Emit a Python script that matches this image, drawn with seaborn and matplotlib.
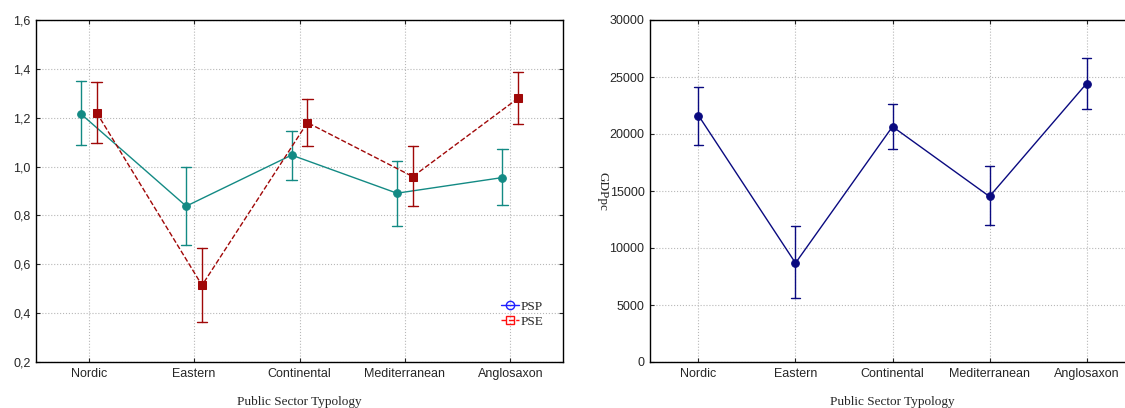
import pandas as pd
import matplotlib
matplotlib.use("Agg")
import matplotlib.pyplot as plt
import seaborn as sns
from matplotlib.lines import Line2D
from matplotlib.ticker import FuncFormatter, MultipleLocator

# data: point value with lower / upper error bar ends
typology = ["Nordic", "Eastern", "Continental", "Mediterranean", "Anglosaxon"]

psp_mean = [1.216, 0.838, 1.047, 0.891, 0.955]
psp_low = [1.088, 0.678, 0.946, 0.758, 0.843]
psp_high = [1.352, 1.000, 1.147, 1.021, 1.070]

pse_mean = [1.221, 0.514, 1.180, 0.959, 1.280]
pse_low = [1.098, 0.362, 1.085, 0.837, 1.173]
pse_high = [1.348, 0.666, 1.278, 1.086, 1.389]

gdp_mean = [21620, 8680, 20650, 14520, 24420]
gdp_low = [19020, 5580, 18670, 12010, 22200]
gdp_high = [24160, 11890, 22610, 17200, 26700]


def long_rows(name, mean, low, high):
    # three rows per category: median is the point, min/max are the bar ends
    rows = []
    for t, m, lo, hi in zip(typology, mean, low, high):
        for v in (lo, m, hi):
            rows.append({"typ": t, "series": name, "value": v})
    return rows


df_left = pd.DataFrame(long_rows("PSP", psp_mean, psp_low, psp_high)
                       + long_rows("PSE", pse_mean, pse_low, pse_high))
df_right = pd.DataFrame(long_rows("GDPpc", gdp_mean, gdp_low, gdp_high))

sns.set_style("ticks")
plt.rcParams["font.family"] = ["Liberation Sans", "DejaVu Sans"]

fig = plt.figure(figsize=(11.25, 4.08), dpi=100)
ax1 = fig.add_axes([36 / 1125, 1 - 362 / 408, (563 - 36) / 1125, 342 / 408])
ax2 = fig.add_axes([650 / 1125, 1 - 362 / 408, (1135 - 650) / 1125, 342 / 408])

teal = "#138a84"
darkred = "#a00808"
navy = "#0a0a80"

sns.pointplot(data=df_left, x="typ", y="value", hue="series", order=typology,
              hue_order=["PSP", "PSE"], palette=[teal, darkred],
              estimator="median", errorbar=("pi", 100), dodge=0.15,
              markers=["o", "s"], linestyles=["-", "--"], capsize=0.1,
              markersize=5.5, linewidth=1.0, err_kws={"linewidth": 1.0},
              legend=False, ax=ax1)

sns.pointplot(data=df_right, x="typ", y="value", order=typology, color=navy,
              estimator="median", errorbar=("pi", 100), capsize=0.1,
              markersize=5.5, linewidth=1.0, err_kws={"linewidth": 1.0},
              ax=ax2)

ax1.set_ylim(0.2, 1.6)
ax1.yaxis.set_major_locator(MultipleLocator(0.2))
ax1.yaxis.set_major_formatter(FuncFormatter(lambda v, p: f"{v:.1f}".replace(".", ",")))
ax2.set_ylim(0, 30000)
ax2.yaxis.set_major_locator(MultipleLocator(5000))

serif = {"family": ["Liberation Serif", "DejaVu Serif"], "size": 9.5}
for ax in (ax1, ax2):
    ax.set_xlim(-0.5, 4.5)
    ax.set_xlabel("Public Sector Typology", fontdict=serif, labelpad=12)
    ax.grid(True, color="#b8b8b8", linestyle=":", linewidth=0.8)
    ax.set_axisbelow(True)
    ax.tick_params(direction="in", length=3, width=0.8, labelsize=9,
                   top=True, right=True, pad=4)
    for s in ax.spines.values():
        s.set_visible(True)
        s.set_linewidth(1.0)
        s.set_color("black")

ax1.set_ylabel("")
ax2.set_ylabel("GDPpc", fontdict=serif, rotation=270, va="bottom")
ax2.yaxis.set_label_coords(-0.11, 0.5)

handles = [
    Line2D([0], [0], color="#2020ff", linestyle="-", marker="o",
           markerfacecolor="none", markersize=6, linewidth=1.0),
    Line2D([0], [0], color="#ff1010", linestyle="--", marker="s",
           markerfacecolor="none", markersize=6, linewidth=1.0),
]
ax1.legend(handles, ["PSP", "PSE"], loc="lower right", frameon=False,
           prop={"family": ["Liberation Serif", "DejaVu Serif"], "size": 9.5},
           handlelength=1.4, handletextpad=0.1, labelspacing=0.2,
           bbox_to_anchor=(0.985, 0.065))

fig.savefig("out.png", dpi=100)
